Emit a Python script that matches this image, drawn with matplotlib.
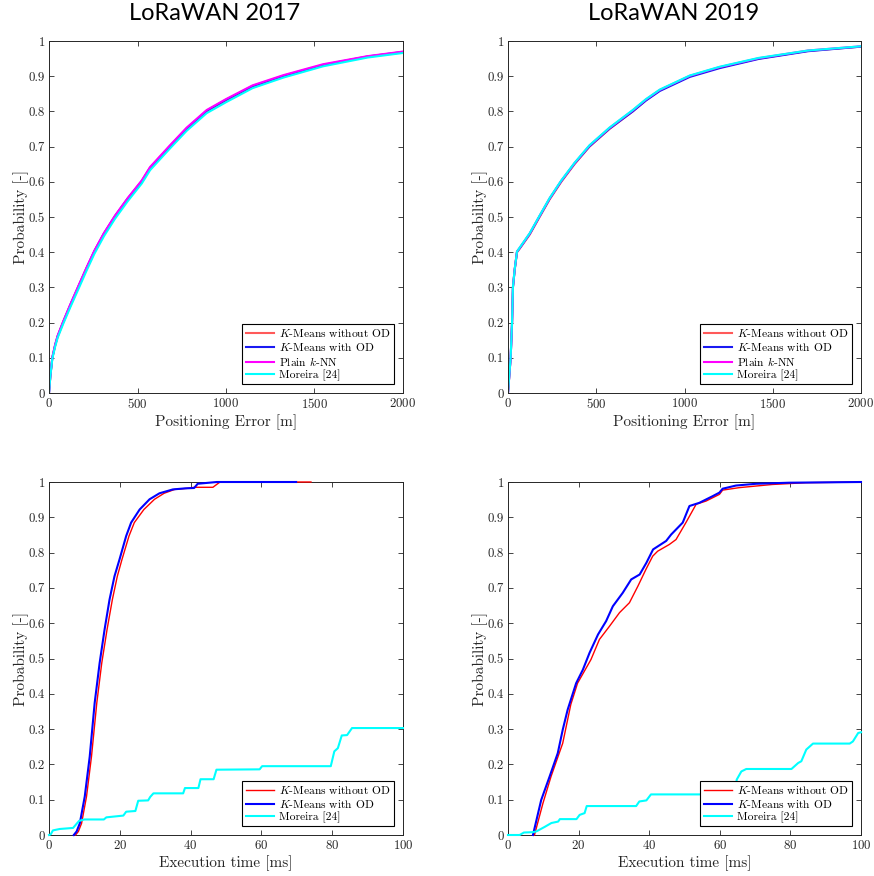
import matplotlib
matplotlib.use("Agg")
import matplotlib.pyplot as plt
from matplotlib.ticker import FuncFormatter
import numpy as np

plt.rcParams["font.family"] = "serif"
plt.rcParams["font.serif"] = ["cmr10"]
plt.rcParams["mathtext.fontset"] = "cm"
plt.rcParams["axes.formatter.use_mathtext"] = True

# ---- positioning error CDF, LoRaWAN 2017
err17_x = [0, 8, 19, 35, 49, 80, 119, 166, 210, 256, 310, 373, 445, 524, 571,
           684, 778, 891, 1000, 1150, 1324, 1548, 1800, 2000]
err17_kmeans = [0, 0.05, 0.1, 0.135, 0.16, 0.2, 0.246, 0.3, 0.35, 0.4, 0.45, 0.5,
                0.55, 0.6, 0.638, 0.7, 0.75, 0.8, 0.831, 0.87, 0.9, 0.931, 0.955, 0.968]
err17_kmeans_od = [0, 0.051, 0.101, 0.137, 0.162, 0.202, 0.249, 0.303, 0.353, 0.403,
                   0.453, 0.503, 0.553, 0.602, 0.64, 0.702, 0.752, 0.802, 0.833,
                   0.872, 0.901, 0.932, 0.956, 0.969]
err17_knn = [0, 0.052, 0.102, 0.138, 0.163, 0.203, 0.25, 0.304, 0.354, 0.404,
             0.454, 0.504, 0.554, 0.604, 0.642, 0.704, 0.754, 0.804, 0.835,
             0.874, 0.903, 0.934, 0.957, 0.97]
err17_moreira = [0, 0.049, 0.098, 0.132, 0.157, 0.196, 0.242, 0.295, 0.345, 0.395,
                 0.445, 0.495, 0.545, 0.595, 0.633, 0.695, 0.745, 0.795, 0.826,
                 0.866, 0.896, 0.928, 0.953, 0.966]

# ---- positioning error CDF, LoRaWAN 2019
err19_x = [0, 15, 23, 28, 38, 51, 66, 123, 179, 236, 302, 377, 462, 575, 707, 782,
           860, 1030, 1200, 1420, 1700, 2000]
err19_kmeans = [0, 0.1, 0.2, 0.3, 0.35, 0.4, 0.41, 0.45, 0.5, 0.55, 0.6, 0.65, 0.7,
                0.75, 0.8, 0.832, 0.86, 0.9, 0.925, 0.95, 0.972, 0.984]
err19_kmeans_od = [0, 0.1, 0.2, 0.3, 0.351, 0.401, 0.411, 0.452, 0.502, 0.552,
                   0.602, 0.652, 0.701, 0.751, 0.8, 0.831, 0.858, 0.898, 0.923,
                   0.949, 0.971, 0.984]
err19_knn = [0, 0.101, 0.201, 0.302, 0.352, 0.402, 0.412, 0.453, 0.503, 0.553,
             0.603, 0.653, 0.703, 0.753, 0.803, 0.834, 0.861, 0.901, 0.926, 0.951,
             0.973, 0.985]
err19_moreira = [0, 0.101, 0.202, 0.302, 0.352, 0.402, 0.413, 0.454, 0.504, 0.554,
                 0.604, 0.654, 0.704, 0.754, 0.804, 0.835, 0.862, 0.902, 0.927,
                 0.952, 0.973, 0.985]

# ---- execution time CDF, LoRaWAN 2017
t17_kmeans_x = [7.5, 8.3, 9.2, 10.6, 12.0, 13.5, 14.9, 16.4, 17.9, 19.3, 20.6, 22.6,
                24.1, 26.8, 29.8, 32.5, 35.5, 39, 41, 46.3, 48.3, 74]
t17_kmeans_y = [0, 0.01, 0.033, 0.109, 0.222, 0.374, 0.487, 0.582, 0.667, 0.733,
                0.78, 0.847, 0.885, 0.922, 0.951, 0.968, 0.979, 0.982, 0.985, 0.985,
                1.0, 1.0]
t17_od_x = [7.0, 7.8, 8.7, 10.1, 11.5, 12.9, 14.3, 15.7, 17.1, 18.5, 19.9, 21.8,
            23.2, 25.6, 28.4, 31.2, 35.0, 38.5, 41.0, 42.0, 47.4, 69.8]
t17_od_y = [0, 0.01, 0.033, 0.109, 0.222, 0.374, 0.487, 0.582, 0.667, 0.733, 0.78,
            0.847, 0.885, 0.922, 0.951, 0.968, 0.979, 0.982, 0.983, 0.995, 1.0, 1.0]
t17_moreira_x = [0, 0.5, 1.1, 3, 6.8, 8.5, 10, 15.5, 16.2, 21, 21.8, 24.4, 25.2, 28,
                 28.6, 29.5, 37.9, 38.4, 42.2, 42.8, 46.5, 47.3, 59.5, 60.2, 79.6,
                 80.6, 81.6, 82.7, 84.2, 85.6, 100]
t17_moreira_y = [0, 0.002, 0.013, 0.017, 0.02, 0.04, 0.044, 0.044, 0.05, 0.055,
                 0.066, 0.068, 0.097, 0.098, 0.108, 0.118, 0.118, 0.133, 0.133,
                 0.158, 0.158, 0.185, 0.186, 0.195, 0.195, 0.237, 0.246, 0.282,
                 0.283, 0.303, 0.303]

# ---- execution time CDF, LoRaWAN 2019
t19_kmeans_x = [7.5, 9.9, 12.2, 15.5, 17.8, 19.7, 23.5, 25.9, 28.8, 31.6, 34.4,
                36.8, 39.1, 41.0, 42.4, 45.7, 47.6, 50.4, 53.3, 56.1, 59.9, 60.8,
                65.5, 74.9, 84.4, 100]
t19_kmeans_y = [0, 0.09, 0.166, 0.26, 0.37, 0.43, 0.497, 0.554, 0.592, 0.63, 0.658,
                0.705, 0.753, 0.79, 0.804, 0.823, 0.837, 0.885, 0.937, 0.946, 0.965,
                0.977, 0.984, 0.993, 0.998, 1.0]
t19_od_x = [7.07, 9.4, 11.8, 14.1, 15.5, 16.9, 19.3, 21.2, 23.1, 25.5, 27.8, 29.7,
            32.5, 34.9, 37.3, 39.2, 41.1, 44.8, 46.2, 49.5, 51.4, 54.2, 58, 59.9,
            60.8, 64.6, 70.3, 79.7, 100]
t19_od_y = [0, 0.099, 0.166, 0.232, 0.298, 0.355, 0.43, 0.468, 0.516, 0.568, 0.606,
            0.648, 0.686, 0.724, 0.738, 0.771, 0.809, 0.833, 0.851, 0.885, 0.932,
            0.941, 0.96, 0.97, 0.981, 0.99, 0.995, 0.998, 1.0]
t19_moreira_x = [0, 3.3, 4.5, 7, 8, 10.4, 12.3, 14.2, 14.7, 19.4, 20.3, 21.7, 22.3,
                 36.3, 37.2, 39.2, 40.5, 64.2, 64.8, 66.1, 67.5, 80.3, 82.2, 83.1,
                 84.5, 86.4, 96.8, 97.7, 99.2, 100]
t19_moreira_y = [0, 0, 0.007, 0.008, 0.01, 0.023, 0.034, 0.038, 0.045, 0.045, 0.057,
                 0.062, 0.082, 0.082, 0.095, 0.098, 0.115, 0.115, 0.157, 0.18, 0.187,
                 0.187, 0.204, 0.209, 0.242, 0.259, 0.259, 0.265, 0.289, 0.291]

labels_err = [r"$K$-Means without OD", r"$K$-Means with OD", r"Plain $k$-NN", "Moreira [24]"]
labels_time = [r"$K$-Means without OD", r"$K$-Means with OD", "Moreira [24]"]
text_col = "#262626"

fig = plt.figure(figsize=(8.74, 8.76), dpi=100)
W, H = 874.0, 876.0


def make_ax(x0, x1, y0, y1):
    ax = fig.add_axes([x0 / W, 1 - y1 / H, (x1 - x0) / W, (y1 - y0) / H])
    ax.set_ylim(0, 1)
    ax.set_yticks(np.arange(0, 1.01, 0.1))
    ax.yaxis.set_major_formatter(FuncFormatter(lambda v, p: "%g" % round(v, 1)))
    ax.tick_params(direction="in", top=True, right=True, length=3.5, width=0.6,
                   labelsize=9.2, colors=text_col, pad=3)
    for s in ax.spines.values():
        s.set_linewidth(0.7)
        s.set_color(text_col)
    ax.set_ylabel("Probability [-]", fontsize=11, color=text_col, labelpad=0)
    return ax


def finish_legend(ax):
    leg = ax.legend(loc="lower right", fontsize=8.3, frameon=True, fancybox=False,
                    edgecolor="black", framealpha=1, borderaxespad=0.75,
                    handlelength=2.5, labelspacing=0.15, borderpad=0.3,
                    handletextpad=0.4)
    leg.get_frame().set_linewidth(0.8)
    leg.set_zorder(5)


# top row: positioning error
for (x0, x1), ex, series, title in [
    ((49, 403), err17_x, (err17_kmeans, err17_kmeans_od, err17_knn, err17_moreira), "LoRaWAN 2017"),
    ((508, 861), err19_x, (err19_kmeans, err19_kmeans_od, err19_knn, err19_moreira), "LoRaWAN 2019"),
]:
    ax = make_ax(x0, x1, 41, 393)
    ax.set_xlim(0, 2000)
    ax.set_xticks([0, 500, 1000, 1500, 2000])
    ax.plot(ex, series[0], color=(1.0, 0.35, 0.35), lw=1.5, label=labels_err[0])
    ax.plot(ex, series[1], color=(0.1, 0.1, 0.95), lw=1.5, label=labels_err[1])
    ax.plot(ex, series[2], color="magenta", lw=1.5, label=labels_err[2])
    ax.plot(ex, series[3], color="cyan", lw=1.5, label=labels_err[3])
    ax.set_xlabel("Positioning Error [m]", fontsize=11, color=text_col, labelpad=2)
    finish_legend(ax)
    fig.text((x0 + x1) / 2 / W - 11 / W, 1 - 14 / H, title, fontsize=17,
             family="Lato", ha="center", va="center", color="black")

# bottom row: execution time
for (x0, x1), data in [
    ((49, 403), ((t17_kmeans_x, t17_kmeans_y), (t17_od_x, t17_od_y), (t17_moreira_x, t17_moreira_y))),
    ((508, 861), ((t19_kmeans_x, t19_kmeans_y), (t19_od_x, t19_od_y), (t19_moreira_x, t19_moreira_y))),
]:
    ax = make_ax(x0, x1, 482, 835)
    ax.set_xlim(0, 100)
    ax.set_xticks([0, 20, 40, 60, 80, 100])
    ax.plot(data[0][0], data[0][1], color="red", lw=1.0, label=labels_time[0],
            zorder=3, clip_on=False)
    ax.plot(data[1][0], data[1][1], color="blue", lw=1.5, label=labels_time[1],
            zorder=3, clip_on=False)
    ax.plot(data[2][0], data[2][1], color="cyan", lw=1.5, label=labels_time[2],
            zorder=3, clip_on=False)
    ax.set_xlabel("Execution time [ms]", fontsize=11, color=text_col, labelpad=2)
    finish_legend(ax)

fig.savefig("out.png", dpi=100)
